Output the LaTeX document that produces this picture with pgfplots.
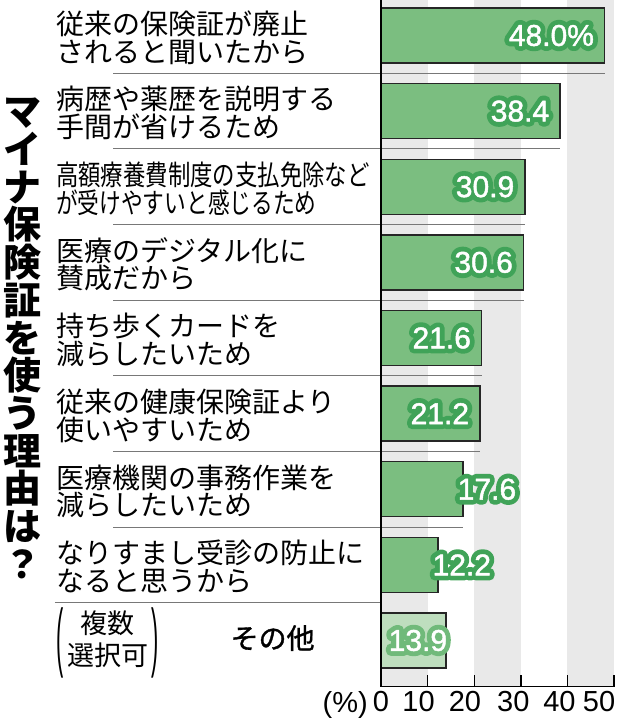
\documentclass[border=0pt]{standalone}
\usepackage{fontspec}
\setmainfont{Liberation Sans}
\newfontfamily\jp{Noto Sans CJK JP}
\newfontfamily\jpm{Noto Sans CJK JP}[FakeBold=1.2]
\newfontfamily\halofont{Liberation Sans}[FakeBold=34]
\newfontfamily\numfont{Liberation Sans}[FakeBold=1.5]
\usepackage{graphicx}
\usepackage{pgfplots}
\pgfplotsset{compat=1.18}

\definecolor{bargreen}{RGB}{123,190,128}
\definecolor{barlight}{RGB}{190,222,190}
\definecolor{halogreen}{RGB}{64,163,88}
\definecolor{halolight}{RGB}{112,186,122}
\definecolor{band}{RGB}{233,233,233}
\definecolor{sepgray}{RGB}{120,120,120}

% white figures with a green rim (stroked copy underneath)
\newcommand\halo[2]{\pgfsetroundjoin\pgfsetroundcap\rlap{\halofont\color{#1}#2}{\numfont\color{white}#2}}
% tall thin parenthesis
\newcommand\tallparen[1]{$\vcenter{\hbox{\scalebox{0.8}[2.8]{\fontspec{Liberation Sans}#1}}}$}

\begin{document}
\begin{tikzpicture}
\begin{axis}[
    at={(381bp,-686.5bp)}, anchor=south west,
    scale only axis, width=233bp, height=686.5bp,
    xmin=0, xmax=50, ymin=-0.6085, ymax=8.4696,
    axis lines=left, axis line style={-, line width=1.4bp, black},
    axis on top, clip=false,
    xbar, bar width=55bp, bar shift=0pt,
    xtick={10,20,30,40,50}, xticklabels={,,,,},
    tick align=inside, major tick length=12bp,
    xtick style={line width=1.4bp, black},
    extra x ticks={0,8.05,18,28.4,38.3,46.8},
    extra x tick labels={0,10,20,30,40,50},
    extra x tick style={major tick length=0pt},
    xticklabel style={inner sep=0pt, yshift=-5bp, font=\fontsize{29bp}{29bp}\selectfont},
    /pgf/number format/assume math mode=true,
    ytick={0,...,8}, ytick style={draw=none},
    yticklabel style={anchor=west, inner sep=0pt, xshift=-325bp, yshift=-2bp,
        align=left, font=\jp\fontsize{28bp}{27.7bp}\selectfont},
    yticklabels={
        {{\fontsize{27bp}{30bp}\selectfont\tallparen{(}\hspace{4bp}$\vcenter{\hbox{\begin{tabular}{@{}c@{}}複数\\選択可\end{tabular}}}$\hspace{3bp}\tallparen{)}}\hspace{72bp}{\jpm その他}},
        {なりすまし受診の防止に\\なると思うから},
        {医療機関の事務作業を\\減らしたいため},
        {従来の健康保険証より\\使いやすいため},
        {持ち歩くカードを\\減らしたいため},
        {医療のデジタル化に\\賛成だから},
        {\scalebox{0.8}[1]{高額療養費制度の支払免除など}\\\scalebox{0.775}[1]{が受けやすいと感じるため}},
        {病歴や薬歴を説明する\\手間が省けるため},
        {従来の保険証が廃止\\されると聞いたから}},
    point meta=explicit symbolic,
    every node near coord/.append style={inner sep=0pt, line join=round,
        font=\fontsize{30bp}{30bp}\selectfont},
]
% background bands
\fill[band] (axis cs:0,-0.6085) rectangle (axis cs:10,8.4696);
\fill[band] (axis cs:20,-0.6085) rectangle (axis cs:30,8.4696);
\fill[band] (axis cs:40,-0.6085) rectangle (axis cs:50,8.4696);
% separators between the reasons
\draw[sepgray, line width=1bp] (axis cs:-57.5,7.5) -- (axis cs:48.0,7.5);
\draw[sepgray, line width=1bp] (axis cs:-57.5,6.5) -- (axis cs:38.4,6.5);
\draw[sepgray, line width=1bp] (axis cs:-57.5,5.5) -- (axis cs:30.9,5.5);
\draw[sepgray, line width=1bp] (axis cs:-57.5,4.5) -- (axis cs:30.6,4.5);
\draw[sepgray, line width=1bp] (axis cs:-57.5,3.5) -- (axis cs:21.6,3.5);
\draw[sepgray, line width=1bp] (axis cs:-57.5,2.5) -- (axis cs:21.2,2.5);
\draw[sepgray, line width=1bp] (axis cs:-57.5,1.5) -- (axis cs:17.6,1.5);
\draw[sepgray, line width=1bp] (axis cs:-70,0.5) -- (axis cs:0,0.5);

\addplot[fill=bargreen, draw=black!85, line width=1.5bp,
    nodes near coords={\halo{halogreen}{\pgfplotspointmeta}},
    every node near coord/.append style={anchor=east, xshift=-10bp}]
    coordinates {(48.0,8) [48.0\%] (38.4,7) [38.4] (30.9,6) [30.9]
                 (30.6,5) [30.6] (21.6,4) [21.6] (21.2,3) [21.2]};
\addplot[fill=bargreen, draw=black!85, line width=1.5bp,
    nodes near coords={\halo{halogreen}{\pgfplotspointmeta}},
    every node near coord/.append style={anchor=west, xshift=-6bp}]
    coordinates {(17.6,2) [17.6] (12.2,1) [12.2]};
\addplot[fill=barlight, draw=black!85, line width=1.5bp,
    nodes near coords={\halo{halolight}{\pgfplotspointmeta}},
    every node near coord/.append style={anchor=west, xshift=-57.8bp}]
    coordinates {(13.9,0) [13.9]};

\node[anchor=north east, inner sep=0pt, xshift=-13bp, yshift=-5bp,
      font=\fontsize{29bp}{29bp}\selectfont] at (axis cs:0,-0.6085) {(\%)};
\end{axis}
\node[anchor=north, inner sep=0pt, align=center,
      font=\jp\bfseries\fontsize{38bp}{37.7bp}\selectfont] at (22bp,-98bp)
      {マ\\イ\\ナ\\保\\険\\証\\を\\使\\う\\理\\由\\は\\？};
\pgfresetboundingbox
\path[use as bounding box] (0,0) rectangle (627bp,-718bp);
\end{tikzpicture}
\end{document}
